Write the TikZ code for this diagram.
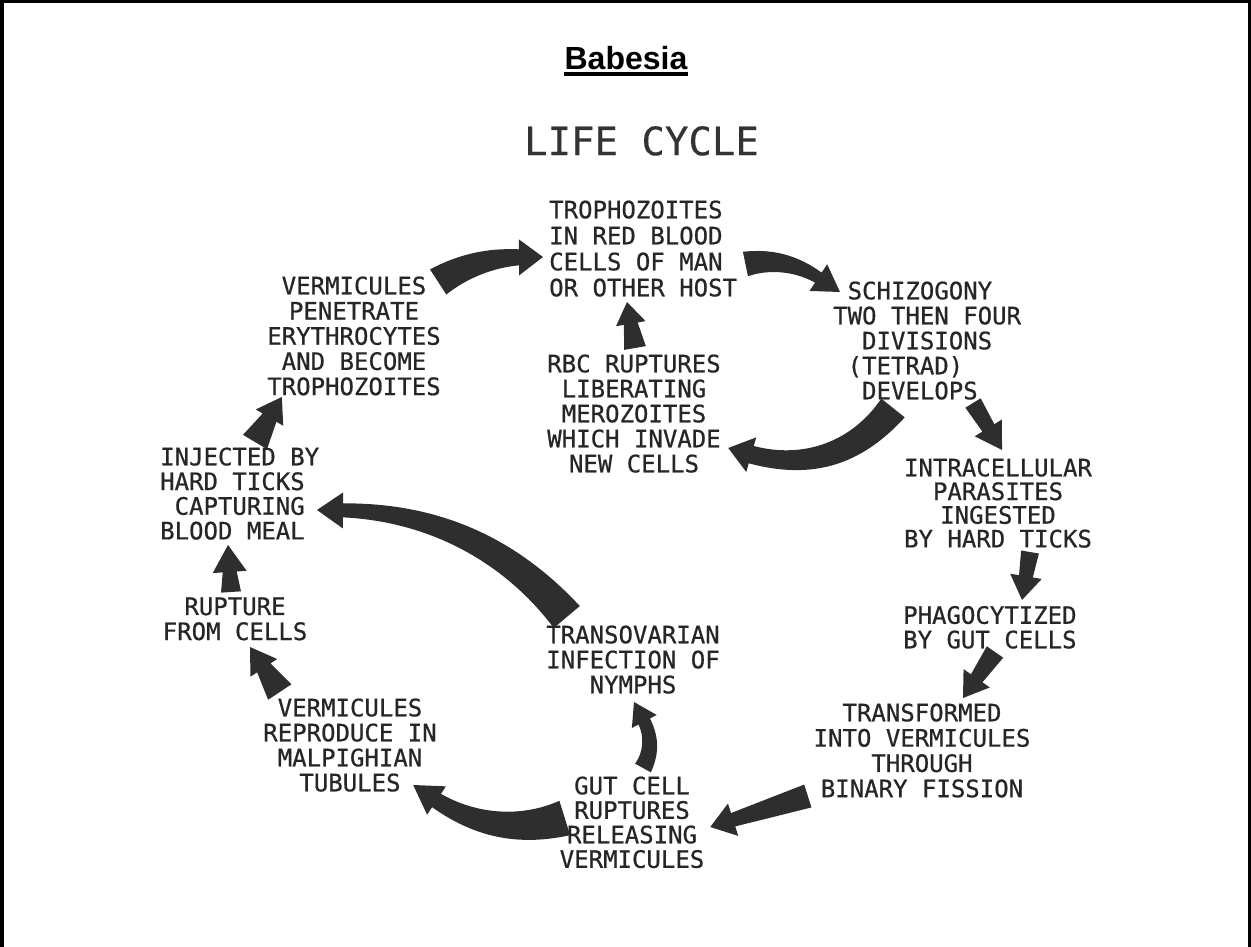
\documentclass[tikz,border=0pt]{standalone}
\usepackage{fontspec}
\setmainfont{Liberation Sans}
\newfontfamily\lettering[FakeBold=0.7]{DejaVu Sans Mono}
\newfontfamily\letteringtitle[FakeBold=0.3]{DejaVu Sans Mono}
\usetikzlibrary{calc}
\newcommand\chs[1]{\hspace*{#1\fontcharwd\font`X}}
% tapered arrow: #1 tail, #2 tip, #3 bend, #4 tail width, #5 neck width, #6 head width, #7 head length
\newcommand\tarrow[7]{%
  \pgfmathsetmacro\tqA{#4/2}%
  \pgfmathsetmacro\tqB{#5/2}%
  \pgfmathsetmacro\tqH{#6/2}%
  \pgfmathsetmacro\tqMa{(2*#4+#5)/6}%
  \pgfmathsetmacro\tqMb{(#4+2*#5)/6}%
  \coordinate (taq) at ($(#1)!0.67!(#2)!#3pt!90:(#2)$);
  \coordinate (tan) at ($(#2)!#7pt!(taq)$);
  \coordinate (tas) at ($(#1)!0.33!(tan)!#3pt!90:(tan)$);
  \coordinate (tat) at ($(#1)!0.67!(tan)!#3pt!90:(tan)$);
  \fill[arrowfill] ($(#1)!\tqA pt!90:(tas)$)
    .. controls ($(tas)!\tqMa pt!90:(tat)$) and ($(tat)!\tqMb pt!-90:(tas)$)
    .. ($(tan)!\tqB pt!90:(#2)$) -- ($(tan)!\tqH pt!90:(#2)$) -- (#2)
    -- ($(tan)!\tqH pt!-90:(#2)$) -- ($(tan)!\tqB pt!-90:(#2)$)
    .. controls ($(tat)!\tqMb pt!90:(tas)$) and ($(tas)!\tqMa pt!-90:(tat)$)
    .. ($(#1)!\tqA pt!-90:(tas)$) -- cycle;
}
\begin{document}
\begin{tikzpicture}[x=1pt,y=-1pt,
  lbl/.style={font=\lettering\fontsize{24}{25}\selectfont, align=center, inner sep=0pt, text=black!85},
  arrowfill/.style={fill=black!82}]
\useasboundingbox (0,0) rectangle (1251,947);
\draw[line width=3.5pt] (1.75,947) -- (1.75,1.75) -- (1249.25,1.75) -- (1249.25,947);

% titles
\node[font=\bfseries\fontsize{32}{36}\selectfont, inner sep=0pt, anchor=base] (title) at (626,69.5) {Babesia};
\draw[line width=3.5pt] ($(title.base west)+(0,4.5)$) -- ($(title.base east)+(0,4.5)$);
\node[font=\letteringtitle\fontsize{39}{40}\selectfont, inner sep=0pt, anchor=north, text=black!80] (life) at (641.5,126) {LIFE CYCLE};

% stages
\node[lbl, align=left, anchor=north west, font=\lettering\fontsize{24}{26}\selectfont] (tropho) at (549,200.3) {TROPHOZOITES\\IN RED BLOOD\\CELLS OF MAN\\OR OTHER HOST};
\node[lbl, align=left, anchor=north west] (schizo) at (833,281.3) {\chs{1}SCHIZOGONY\\TWO THEN FOUR\\\chs{2}DIVISIONS\\\chs{1}(TETRAD)\\\chs{2}DEVELOPS};
\node[lbl, anchor=north] (rbc) at (634,354.3) {RBC RUPTURES\\LIBERATING\\MEROZOITES\\WHICH INVADE\\NEW CELLS};
\node[lbl, anchor=north, font=\lettering\fontsize{24}{25.2}\selectfont] (vermp) at (354,276.3) {VERMICULES\\PENETRATE\\ERYTHROCYTES\\AND BECOME\\TROPHOZOITES};
\node[lbl, align=left, anchor=north west, font=\lettering\fontsize{24}{24.7}\selectfont] (inj) at (160,447.3) {INJECTED BY\\HARD TICKS\\\chs{1}CAPTURING\\BLOOD MEAL};
\node[lbl, anchor=north] (rupt) at (235,597.3) {RUPTURE\\FROM CELLS};
\node[lbl, anchor=north] (vermr) at (350,698.3) {VERMICULES\\REPRODUCE IN\\MALPIGHIAN\\TUBULES};
\node[lbl, anchor=north, font=\lettering\fontsize{24}{24.5}\selectfont] (gut) at (632,776.3) {GUT CELL\\RUPTURES\\RELEASING\\VERMICULES};
\node[lbl, anchor=north] (trans) at (633,625.3) {TRANSOVARIAN\\INFECTION OF\\NYMPHS};
\node[lbl, anchor=north, font=\lettering\fontsize{24}{23.7}\selectfont] (intra) at (998,458.3) {INTRACELLULAR\\PARASITES\\INGESTED\\BY HARD TICKS};
\node[lbl, align=left, anchor=north west, font=\lettering\fontsize{24}{24.5}\selectfont] (phago) at (903,605.8) {PHAGOCYTIZED\\BY GUT CELLS};
\node[lbl, anchor=north, font=\lettering\fontsize{24}{25.3}\selectfont] (transf) at (922,703.3) {TRANSFORMED\\INTO VERMICULES\\THROUGH\\BINARY FISSION};

% connector ends
\coordinate (a1t) at ($(vermp.north east)+(-2.7,5.7)$);
\coordinate (a1h) at ($(tropho.north west)+(-6,56.7)$);
\coordinate (a2t) at ($(tropho.north east)+(8.2,63.7)$);
\coordinate (a2h) at ($(schizo.north west)+(7,10.7)$);
\coordinate (a3t) at ($(schizo.north west)+(60,126.7)$);
\coordinate (a3h) at ($(rbc.north east)+(7.3,93.7)$);
\coordinate (a4t) at ($(schizo.north west)+(140,121.7)$);
\coordinate (a4h) at ($(intra.north)+(4,-8.3)$);
\coordinate (a5t) at ($(intra.north)+(32,93.7)$);
\coordinate (a5h) at ($(phago.north west)+(119,-5.8)$);
\coordinate (a6t) at ($(phago.north west)+(92,46.2)$);
\coordinate (a6h) at ($(transf.north)+(41,-5.3)$);
\coordinate (a7t) at ($(transf.north west)+(-5.6,92.7)$);
\coordinate (a7h) at ($(gut.north east)+(5.8,50.7)$);
\coordinate (a8t) at ($(gut.north)+(11,-8.3)$);
\coordinate (a8h) at ($(trans.north)+(1,76.7)$);
\coordinate (a9t) at ($(gut.north west)+(5.2,41.7)$);
\coordinate (a9h) at ($(vermr.north east)+(-23.7,86.7)$);
\coordinate (a10t) at ($(trans.north west)+(20.7,-8.3)$);
\coordinate (a10h) at ($(inj.north west)+(157,62.7)$);
\coordinate (a11t) at ($(vermr.north west)+(16.7,-6.3)$);
\coordinate (a11h) at ($(rupt.north)+(15,49.7)$);
\coordinate (a12t) at ($(rupt.north)+(-4,-5.3)$);
\coordinate (a12h) at ($(inj.north west)+(68,97.7)$);
\coordinate (a13t) at ($(inj.north west)+(95,-5.3)$);
\coordinate (a13h) at ($(vermp.north west)+(14.7,120.7)$);
\coordinate (a14t) at ($(rbc.north)+(1,-6.3)$);
\coordinate (a14h) at ($(tropho.north west)+(78,101.7)$);

% arrows
\tarrow{a1t}{a1h}{8}{30}{16}{36}{24}
\tarrow{a2t}{a2h}{10}{25}{12}{32}{26}
\tarrow{a3t}{a3h}{32}{30}{18}{36}{24}
\tarrow{a4t}{a4h}{0}{18}{14}{32}{26}
\tarrow{a5t}{a5h}{0}{18}{14}{32}{24}
\tarrow{a6t}{a6h}{0}{20}{14}{32}{24}
\tarrow{a7t}{a7h}{0}{24}{14}{34}{24}
\tarrow{a8t}{a8h}{-8}{18}{13}{28}{22}
\tarrow{a9t}{a9h}{20}{36}{16}{34}{28}
\tarrow{a10t}{a10h}{-37}{34}{14}{36}{26}
\tarrow{a11t}{a11h}{0}{28}{16}{32}{25}
\tarrow{a12t}{a12h}{0}{20}{14}{34}{27}
\tarrow{a13t}{a13h}{0}{28}{16}{32}{24}
\tarrow{a14t}{a14h}{0}{22}{14}{30}{22}
\end{tikzpicture}
\end{document}
